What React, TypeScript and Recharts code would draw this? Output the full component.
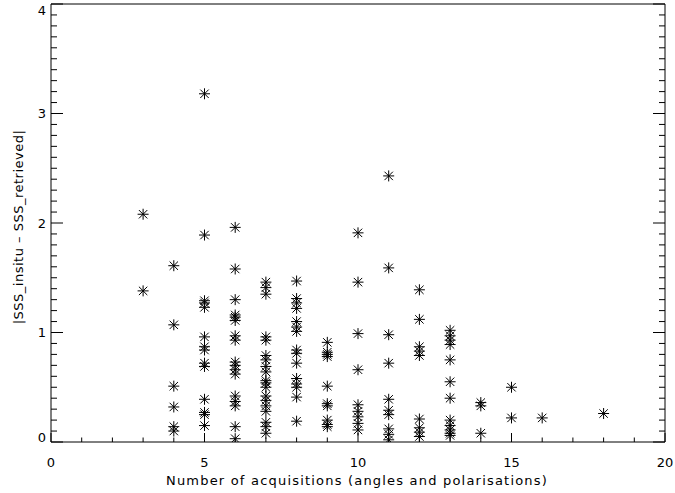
import { ScatterChart, Scatter, XAxis, YAxis } from 'recharts';

// |SSS_insitu - SSS_retrieved| grouped by number of acquisitions
const acqCounts = [3, 4, 5, 6, 7, 8, 9, 10, 11, 12, 13, 14, 15, 16, 18];

const err3 = [2.08, 1.38];
const err4 = [1.61, 1.07, 0.51, 0.32, 0.14, 0.10];
const err5 = [3.18, 1.89, 1.29, 1.27, 1.23, 0.96, 0.87, 0.84, 0.72, 0.69, 0.39, 0.27, 0.25, 0.15];
const err6 = [1.96, 1.58, 1.30, 1.16, 1.14, 1.11, 0.97, 0.93, 0.73, 0.70, 0.66, 0.62, 0.42, 0.37, 0.33, 0.14, 0.03];
const err7 = [1.46, 1.41, 1.35, 0.96, 0.93, 0.79, 0.75, 0.69, 0.64, 0.56, 0.54, 0.50, 0.42, 0.38, 0.33, 0.28, 0.18, 0.14, 0.08];
const err8 = [1.47, 1.31, 1.27, 1.22, 1.10, 1.05, 1.01, 0.84, 0.81, 0.72, 0.58, 0.53, 0.50, 0.41, 0.19];
const err9 = [0.91, 0.82, 0.80, 0.78, 0.51, 0.35, 0.33, 0.20, 0.16, 0.14];
const err10 = [1.91, 1.46, 0.99, 0.66, 0.34, 0.28, 0.23, 0.17, 0.11];
const err11 = [2.43, 1.59, 0.98, 0.72, 0.39, 0.29, 0.25, 0.12, 0.07, 0.02];
const err12 = [1.39, 1.12, 0.87, 0.83, 0.79, 0.21, 0.13, 0.09, 0.05];
const err13 = [1.02, 0.97, 0.93, 0.89, 0.75, 0.55, 0.40, 0.20, 0.15, 0.11, 0.08, 0.06];
const err14 = [0.36, 0.33, 0.08];
const err15 = [0.50, 0.22];
const err16 = [0.22];
const err18 = [0.26];

const errByCount = [err3, err4, err5, err6, err7, err8, err9, err10, err11, err12, err13, err14, err15, err16, err18];

// axis ticks: every integer on x, every 0.1 on y; labels only on the majors
const xMajor = [0, 5, 10, 15, 20];
const yMajor = [0, 1, 2, 3, 4];
const xTicks = Array.from({ length: 21 }, (_, i) => i);
const yTicks = Array.from({ length: 41 }, (_, i) => i / 10);

const points = acqCounts.flatMap((n, i) => errByCount[i].map((err) => ({ n, err })));

const INK = '#000';
const FONT = '"DejaVu Sans", sans-serif';

const isMajor = (v: number, majors: number[]) => majors.some((m) => Math.abs(m - v) < 1e-6);

function Asterisk({ cx, cy }: { cx?: number; cy?: number }) {
  if (cx == null || cy == null) return null;
  const r = 5.5;
  const d = 4.2;
  return (
    <g stroke={INK} strokeWidth={1}>
      <line x1={cx} y1={cy - r} x2={cx} y2={cy + r} />
      <line x1={cx - r} y1={cy} x2={cx + r} y2={cy} />
      <line x1={cx - d} y1={cy - d} x2={cx + d} y2={cy + d} />
      <line x1={cx - d} y1={cy + d} x2={cx + d} y2={cy - d} />
    </g>
  );
}

// tick marks point into the plot, like IDL
function BottomTick(props: any) {
  const { x, y, payload } = props;
  const major = isMajor(payload.value, xMajor);
  const len = major ? 9 : 4.5;
  return (
    <g>
      <path d={`M${x},${y}V${y - len}`} stroke={INK} strokeWidth={1} fill="none" />
      {major && (
        <text x={x} y={y + 25} textAnchor="middle" fontSize={13} fill={INK} fontFamily={FONT}>
          {payload.value}
        </text>
      )}
    </g>
  );
}

function TopTick(props: any) {
  const { x, y, payload } = props;
  const len = isMajor(payload.value, xMajor) ? 9 : 4.5;
  return <path d={`M${x},${y}V${y + len}`} stroke={INK} strokeWidth={1} fill="none" />;
}

function LeftTick(props: any) {
  const { x, y, payload } = props;
  const v = payload.value;
  const major = isMajor(v, yMajor);
  const len = major ? 12 : 6;
  // IDL nudges the end labels inward
  const shift = v > 3.95 ? 6 : v < 0.05 ? -5 : 0;
  return (
    <g>
      <path d={`M${x},${y}H${x + len}`} stroke={INK} strokeWidth={1} fill="none" />
      {major && (
        <text x={x - 5} y={y + shift} dy="0.35em" textAnchor="end" fontSize={13} fill={INK} fontFamily={FONT}>
          {Math.round(v)}
        </text>
      )}
    </g>
  );
}

function RightTick(props: any) {
  const { x, y, payload } = props;
  const len = isMajor(payload.value, yMajor) ? 12 : 6;
  return <path d={`M${x},${y}H${x - len}`} stroke={INK} strokeWidth={1} fill="none" />;
}

export default function App() {
  return (
    <div style={{ position: 'absolute', left: 0, top: 0, width: 675, height: 493, background: '#fff' }}>
      <ScatterChart width={675} height={493} margin={{ top: 0, right: 0, bottom: 0, left: 0 }} style={{ fontFamily: FONT }}>
        <XAxis
          type="number"
          dataKey="n"
          domain={[0, 20]}
          ticks={xTicks}
          interval={0}
          allowDataOverflow
          height={51}
          tickLine={false}
          tickSize={0}
          tickMargin={0}
          tick={<BottomTick />}
          axisLine={{ stroke: INK, strokeWidth: 1 }}
          label={{
            content: () => (
              <text x={357} y={485} textAnchor="middle" fontSize={13} letterSpacing={1.2} fill={INK} fontFamily={FONT}>
                Number of acquisitions (angles and polarisations)
              </text>
            ),
          }}
        />
        <XAxis
          xAxisId="top"
          orientation="top"
          type="number"
          domain={[0, 20]}
          ticks={xTicks}
          interval={0}
          allowDataOverflow
          height={4}
          tickLine={false}
          tickSize={0}
          tickMargin={0}
          tick={<TopTick />}
          axisLine={{ stroke: INK, strokeWidth: 1 }}
        />
        <YAxis
          type="number"
          dataKey="err"
          domain={[0, 4]}
          ticks={yTicks}
          interval={0}
          allowDataOverflow
          width={51}
          tickLine={false}
          tickSize={0}
          tickMargin={0}
          tick={<LeftTick />}
          axisLine={{ stroke: INK, strokeWidth: 1 }}
          label={{
            content: () => (
              <text
                x={18}
                y={227}
                transform="rotate(-90, 18, 227)"
                textAnchor="middle"
                dy="0.35em"
                fontSize={13}
                letterSpacing={0.5}
                fill={INK}
                fontFamily={FONT}
              >
                |SSS_insitu – SSS_retrieved|
              </text>
            ),
          }}
        />
        <YAxis
          yAxisId="right"
          orientation="right"
          type="number"
          domain={[0, 4]}
          ticks={yTicks}
          interval={0}
          allowDataOverflow
          width={10}
          tickLine={false}
          tickSize={0}
          tickMargin={0}
          tick={<RightTick />}
          axisLine={{ stroke: INK, strokeWidth: 1 }}
        />
        <Scatter
          data={points}
          isAnimationActive={false}
          shape={(p: any) => <Asterisk cx={p.cx} cy={p.cy} />}
        />
      </ScatterChart>
    </div>
  );
}
